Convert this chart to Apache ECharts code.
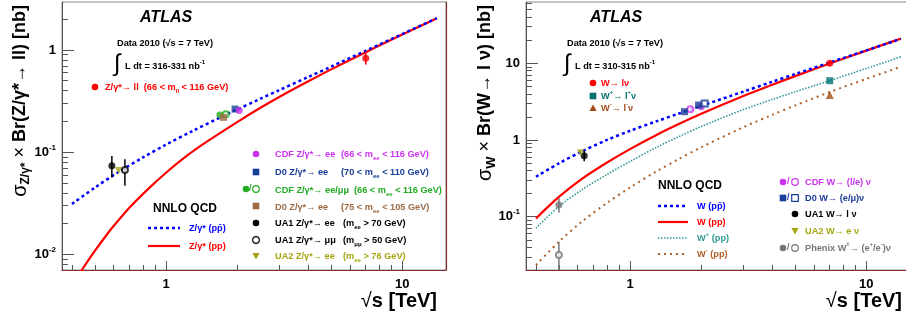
<!DOCTYPE html>
<html>
<head>
<meta charset="utf-8">
<script src="https://cdn.jsdelivr.net/npm/echarts@6/dist/echarts.min.js"></script>
<style>
html, body { margin: 0; padding: 0; background: #fff; }
#main { width: 906px; height: 320px; }
</style>
</head>
<body>
<div id="main"></div>
<script>
// axis ranges (sqrt(s) in TeV, sigma x BR in nb)
var xRange = [0.363, 15.3];
var yRangeZ = [0.00702, 2.95];
var yRangeW = [0.0202, 63];

// tick positions
var xMajor = [1, 10];
var xMinor = [0.4, 0.5, 0.6, 0.7, 0.8, 0.9, 2, 3, 4, 5, 6, 7, 8, 9];
var yMajorZ = [0.01, 0.1, 1];
var yMinorZ = [0.008, 0.009, 0.02, 0.03, 0.04, 0.05, 0.06, 0.07, 0.08, 0.09,
               0.2, 0.3, 0.4, 0.5, 0.6, 0.7, 0.8, 0.9, 2];
var yMajorW = [0.1, 1, 10];
var yMinorW = [0.03, 0.04, 0.05, 0.06, 0.07, 0.08, 0.09, 0.2, 0.3, 0.4, 0.5, 0.6, 0.7, 0.8, 0.9,
               2, 3, 4, 5, 6, 7, 8, 9, 20, 30, 40, 50, 60];

// NNLO QCD Z/gamma* -> ll
var zPpbarE = [0.40, 0.50, 0.63, 0.80, 1.0, 1.3, 1.7, 1.96, 2.5, 3.0, 4.0, 5.0, 7.0, 10, 14];
var zPpbar  = [0.031, 0.045, 0.064, 0.089, 0.1185, 0.162, 0.219, 0.256, 0.332, 0.403, 0.545, 0.688, 0.982, 1.433, 2.046];
var zPpE = [0.40, 0.44, 0.50, 0.55, 0.60, 0.70, 0.85, 1.0, 1.2, 1.5, 2.0, 2.5, 3.0, 4.0, 5.0, 7.0, 10, 14];
var zPp  = [0.0049, 0.0070, 0.0108, 0.0146, 0.0189, 0.0286, 0.0447, 0.0629, 0.0889, 0.128, 0.197, 0.2705, 0.345, 0.494, 0.646, 0.951, 1.418, 2.05];

// NNLO QCD W -> l nu
var wE      = [0.40, 0.50, 0.63, 0.80, 1.0, 1.3, 1.6, 2.0, 3.0, 4.0, 5.0, 7.0, 10, 14];
var wPpbar  = [0.332, 0.496, 0.718, 1.003, 1.317, 1.762, 2.20, 2.78, 4.25, 5.75, 7.25, 10.25, 14.75, 20.8];
var wPp     = [0.095, 0.181, 0.316, 0.509, 0.761, 1.173, 1.602, 2.2, 3.73, 5.26, 6.81, 9.93, 14.65, 21.0];
var wPlusPp = [0.0708, 0.1358, 0.2275, 0.3563, 0.525, 0.809, 1.097, 1.496, 2.48, 3.39, 4.26, 5.94, 8.57, 12.14];
var wMinusPp= [0.0235, 0.0471, 0.0878, 0.1517, 0.2397, 0.393, 0.561, 0.803, 1.455, 2.13, 2.826, 4.22, 6.27, 9.03];

// measurements [sqrt(s), value] and error bars [sqrt(s), low, high]
var atlasZ = [[7.0, 0.83]];
var atlasZErr = [[7.0, 0.72, 0.97]];
var cdfZee196 = [[2.04, 0.255]];
var d0Zee196 = [[1.96, 0.264]];
var cdfZ18Filled = [[1.69, 0.231]];
var cdfZ18Open = [[1.79, 0.235]];
var d0Zee18 = [[1.75, 0.219]];
var ua1Zee = [[0.59, 0.0734]];
var ua1ZeeErr = [[0.59, 0.0565, 0.0915]];
var ua1Zmm = [[0.67, 0.067]];
var ua1ZmmErr = [[0.67, 0.047, 0.085]];
var ua2Zee = [[0.63, 0.066]];

var atlasW = [[7.0, 10.0]];
var atlasWErr = [[7.0, 9.2, 10.9]];
var atlasWPlus = [[7.0, 5.93]];
var atlasWMinus = [[7.0, 3.86]];
var cdfWFilled = [[2.0, 2.72]];
var cdfWOpen = [[1.80, 2.51]];
var d0WFilled = [[1.70, 2.34], [1.95, 2.86]];
var d0WOpen = [[2.07, 3.0]];
var ua1W = [[0.64, 0.624]];
var ua1WErr = [[0.64, 0.53, 0.73]];
var ua2W = [[0.617, 0.683]];
var phenixFilled = [[0.5, 0.142]];
var phenixFilledErr = [[0.5, 0.113, 0.174]];
var phenixOpen = [[0.5, 0.0316]];
var phenixOpenErr = [[0.5, 0.01, 0.047]];

var FONT = "'Liberation Sans', Arial, Helvetica, sans-serif";
var FRAME = '#8a3030';
var col = {
    blue: '#0000ff', red: '#ff0000', teal: '#339999', brown: '#b0602a',
    cdf: '#cc33ee', d0: '#1a3d99', green: '#22aa22', d0Brown: '#9c6b45',
    ua2: '#a5a512', gray: '#777777', wp: '#007070', wm: '#a34a18'
};
var LS = 9.2; // legend font size

var chart = echarts.init(document.getElementById('main'), null, {renderer: 'canvas'});

function lg(v) { return Math.log(v) / Math.LN10; }
function lgList(a) { return a.map(lg); }
function pairs(xs, ys) { return xs.map(function (x, i) { return [x, ys[i]]; }); }

var powRich = {
    b: {fontSize: 13, fontWeight: 'bold', fontFamily: FONT, color: '#000'},
    s: {fontSize: 8, fontWeight: 'bold', fontFamily: FONT, color: '#000', padding: [0, 0, 9, 0]}
};
function powFmt(v) {
    var e = Math.round(v);
    if (e === 0) return '{b|1}';
    if (e === 1) return '{b|10}';
    return '{b|10}{s|' + e + '}';
}

function makeX(g) {
    return [
        {type: 'log', gridIndex: g, position: 'bottom', min: xRange[0], max: xRange[1], show: false},
        {type: 'value', gridIndex: g, position: 'bottom', min: lg(xRange[0]), max: lg(xRange[1]),
         axisLine: {show: true, onZero: false, lineStyle: {color: FRAME, width: 1.2}},
         axisTick: {show: true, inside: true, length: 9, customValues: lgList(xMajor), lineStyle: {color: '#555'}},
         axisLabel: {customValues: lgList(xMajor), formatter: powFmt, rich: powRich, margin: 8},
         splitLine: {show: false}},
        {type: 'value', gridIndex: g, position: 'bottom', min: lg(xRange[0]), max: lg(xRange[1]),
         axisLine: {show: false, onZero: false},
         axisTick: {show: true, inside: true, length: 5, customValues: lgList(xMinor), lineStyle: {color: '#555'}},
         axisLabel: {show: false}, splitLine: {show: false}}
    ];
}
function makeY(g, range, major, minor, rightLine) {
    return [
        {type: 'log', gridIndex: g, min: range[0], max: range[1], position: 'right',
         show: rightLine, axisLine: {show: true, onZero: false, lineStyle: {color: FRAME, width: 1.2}},
         axisTick: {show: false}, axisLabel: {show: false}, splitLine: {show: false}},
        {type: 'value', gridIndex: g, position: 'left', min: lg(range[0]), max: lg(range[1]),
         axisLine: {show: true, onZero: false, lineStyle: {color: '#555', width: 1}},
         axisTick: {show: true, inside: true, length: 12, customValues: lgList(major), lineStyle: {color: '#555'}},
         axisLabel: {customValues: lgList(major), formatter: powFmt, rich: powRich, margin: 6},
         splitLine: {show: false}},
        {type: 'value', gridIndex: g, position: 'left', min: lg(range[0]), max: lg(range[1]),
         axisLine: {show: false, onZero: false},
         axisTick: {show: true, inside: true, length: 6, customValues: lgList(minor), lineStyle: {color: '#555'}},
         axisLabel: {show: false}, splitLine: {show: false}}
    ];
}

function curve(g, xs, ys, color, width, dash) {
    return {type: 'line', xAxisIndex: g * 3, yAxisIndex: g * 3, data: pairs(xs, ys),
            showSymbol: false, symbol: 'none', smooth: 0.3, clip: true, silent: true, z: 2,
            lineStyle: {color: color, width: width, type: dash || 'solid', cap: 'butt'}};
}
function pts(g, data, symbol, color, size, rotate) {
    return {type: 'scatter', xAxisIndex: g * 3, yAxisIndex: g * 3, data: data,
            symbol: symbol, symbolSize: size || 7, symbolRotate: rotate || 0, silent: true, z: 4,
            itemStyle: {color: color, borderColor: color, borderWidth: symbol.indexOf('empty') === 0 ? 1.2 : 0}};
}
function errs(g, data, color) {
    return {type: 'custom', xAxisIndex: g * 3, yAxisIndex: g * 3, data: data, clip: true, silent: true, z: 3,
            encode: {x: 0, y: [1, 2]},
            renderItem: function (params, api) {
                var a = api.coord([api.value(0), api.value(1)]);
                var b = api.coord([api.value(0), api.value(2)]);
                return {type: 'line', shape: {x1: a[0], y1: a[1], x2: b[0], y2: b[1]},
                        style: {stroke: color, lineWidth: 1.5}};
            }};
}

// text helpers for the annotations
function richFor(size) {
    return {
        sub: {fontSize: Math.round(size * 0.7), fontWeight: 'bold', fontFamily: FONT, padding: [Math.round(size * 0.9), 0, 0, 0]},
        sup: {fontSize: Math.round(size * 0.7), fontWeight: 'bold', fontFamily: FONT, padding: [0, 0, Math.round(size * 0.8), 0]},
        n: {fontWeight: 'normal', fontFamily: FONT, fontSize: size}
    };
}
function txt(x, y, text, color, size, extra) {
    var st = {text: text, fill: color, font: 'bold ' + size + 'px ' + FONT,
              align: 'left', verticalAlign: 'middle', textAlign: 'left', textVerticalAlign: 'middle',
              rich: richFor(size)};
    if (extra) for (var k in extra) st[k] = extra[k];
    return {type: 'text', x: x, y: y, silent: true, style: st, z: 10};
}
function dot(x, y, color, open) {
    return {type: 'circle', shape: {cx: x, cy: y, r: 3.3}, silent: true, z: 10,
            style: open ? {fill: '#fff', stroke: color, lineWidth: 1.2} : {fill: color}};
}
function box(x, y, color, open) {
    return {type: 'rect', shape: {x: x - 3.3, y: y - 3.3, width: 6.6, height: 6.6}, silent: true, z: 10,
            style: open ? {fill: '#fff', stroke: color, lineWidth: 1.2} : {fill: color}};
}
function tri(x, y, color, down) {
    var s = down ? -1 : 1;
    return {type: 'polygon', shape: {points: [[x - 3.6, y + 3 * s], [x + 3.6, y + 3 * s], [x, y - 3.6 * s]]},
            silent: true, z: 10, style: {fill: color}};
}
function seg(x1, x2, y, color, width, dash) {
    return {type: 'line', shape: {x1: x1, y1: y, x2: x2, y2: y}, silent: true, z: 10,
            style: {stroke: color, lineWidth: width, lineDash: dash || null}};
}

var graphics = [
    // y titles
    txt(20, 5, '{sg|σ}{sb|Z/γ*}{n| × }Br(Z/γ*→ ll) [nb]', '#000', 18,
        {align: 'right', textAlign: 'right', rich: {
            sg: {fontSize: 20, fontWeight: 'normal', fontFamily: FONT},
            sb: {fontSize: 12, fontWeight: 'bold', fontFamily: FONT, padding: [12, 0, 0, 0]},
            n: {fontSize: 18, fontWeight: 'normal', fontFamily: FONT}}}),
    txt(485, 5, '{sg|σ}{sb|W}{n| × }Br(W→ l ν) [nb]', '#000', 18,
        {align: 'right', textAlign: 'right', rich: {
            sg: {fontSize: 20, fontWeight: 'normal', fontFamily: FONT},
            sb: {fontSize: 13, fontWeight: 'bold', fontFamily: FONT, padding: [12, 0, 0, 0]},
            n: {fontSize: 18, fontWeight: 'normal', fontFamily: FONT}}}),
    // x titles
    txt(437, 301, '{n|√}s [TeV]', '#000', 20, {align: 'right', textAlign: 'right'}),
    txt(902, 301, '{n|√}s [TeV]', '#000', 20, {align: 'right', textAlign: 'right'}),

    // ---- left panel annotations
    txt(140, 18, 'ATLAS', '#000', 16, {font: 'italic bold 16px ' + FONT}),
    txt(117, 43, 'Data 2010 (√s = 7 TeV)', '#000', 9.2),
    txt(114, 64, '∫', '#000', 24, {font: 'normal 24px ' + FONT}),
    txt(125, 66, 'L dt = 316-331 nb{sup|-1}', '#000', 9.2),
    dot(95, 87, col.red),
    txt(105, 87, 'Z/γ*→ ll  (66 < m{sub|ll} < 116 GeV)', col.red, LS),

    dot(256, 154, col.cdf),
    txt(275, 154, 'CDF Z/γ*→ ee', col.cdf, LS), txt(341, 154, '(66 < m{sub|ee} < 116 GeV)', col.cdf, LS),
    box(256, 172, col.d0),
    txt(275, 172, 'D0 Z/γ*→ ee', col.d0, LS), txt(341, 172, '(70 < m{sub|ee} < 110 GeV)', col.d0, LS),
    dot(246, 189, col.green), txt(249, 189, '/', col.green, 9), dot(256, 189, col.green, true),
    txt(275, 190, 'CDF Z/γ*→ ee/μμ', col.green, LS), txt(354, 190, '(66 < m{sub|ee} < 116 GeV)', col.green, LS),
    box(256, 206, col.d0Brown),
    txt(275, 207, 'D0 Z/γ*→ ee', col.d0Brown, LS), txt(341, 207, '(75 < m{sub|ee} < 105 GeV)', col.d0Brown, LS),
    dot(256, 223, '#000'),
    txt(275, 223, 'UA1 Z/γ*→ ee', '#000', LS), txt(343, 223, '(m{sub|ee} > 70 GeV)', '#000', LS),
    dot(256, 240, '#000', true),
    txt(275, 240, 'UA1 Z/γ*→ μμ', '#000', LS), txt(343, 240, '(m{sub|μμ} > 50 GeV)', '#000', LS),
    tri(256, 256, col.ua2, true),
    txt(275, 256, 'UA2 Z/γ*→ ee', col.ua2, LS), txt(343, 256, '(m{sub|ee} > 76 GeV)', col.ua2, LS),

    txt(153, 209, 'NNLO QCD', '#000', 12),
    seg(148, 180, 228, col.blue, 2.5, [3, 3]), txt(189, 228, 'Z/γ* (pp̄)', col.blue, LS),
    seg(148, 180, 246, col.red, 2.2), txt(189, 246, 'Z/γ* (pp)', col.red, LS),

    // ---- right panel annotations
    txt(590, 18, 'ATLAS', '#000', 16, {font: 'italic bold 16px ' + FONT}),
    txt(567, 43, 'Data 2010 (√s = 7 TeV)', '#000', 9.2),
    txt(564, 64, '∫', '#000', 24, {font: 'normal 24px ' + FONT}),
    txt(575, 66, 'L dt = 310-315 nb{sup|-1}', '#000', 9.2),
    dot(593, 83, col.red), txt(601, 83, 'W→ lν', col.red, LS),
    box(593, 96, col.wp), txt(601, 96, 'W{sup|+}→ l{sup|+}ν', col.wp, LS),
    tri(593, 108, col.wm, false), txt(601, 108, 'W{sup|-}→ l{sup|-}ν', col.wm, LS),

    txt(658, 186, 'NNLO QCD', '#000', 12),
    seg(658, 688, 206, col.blue, 2.5, [3, 3]), txt(697, 206, 'W (pp̄)', col.blue, LS),
    seg(658, 688, 222, col.red, 2.2), txt(697, 222, 'W (pp)', col.red, LS),
    seg(658, 688, 238, col.teal, 1.6, [1.5, 1.5]), txt(697, 238, 'W{sup|+} (pp)', col.teal, LS),
    seg(658, 688, 254, col.brown, 2, [2, 4]), txt(697, 254, 'W{sup|-} (pp)', col.brown, LS),

    dot(783, 182, col.cdf), txt(787, 182, '/', col.cdf, 9), dot(795, 182, col.cdf, true),
    txt(805, 182, 'CDF W→ (l/e) ν', col.cdf, LS),
    box(783, 198, col.d0), txt(787, 198, '/', col.d0, 9), box(795, 198, col.d0, true),
    txt(805, 198, 'D0 W→ (e/μ)ν', col.d0, LS),
    dot(795, 214, '#000'), txt(805, 214, 'UA1 W→ l ν', '#000', LS),
    tri(795, 231, col.ua2, true), txt(805, 231, 'UA2 W→ e ν', col.ua2, LS),
    dot(783, 248, col.gray), txt(787, 248, '/', col.gray, 9), dot(795, 248, col.gray, true),
    txt(805, 248, 'Phenix W{sup|±}→ (e{sup|+}/e{sup|-})ν', col.gray, LS)
];
// rotate the two y titles
graphics[0].rotation = Math.PI / 2;
graphics[1].rotation = Math.PI / 2;

var option = {
    animation: false,
    backgroundColor: '#fff',
    textStyle: {fontFamily: FONT},
    grid: [
        {left: 62, top: 2, width: 384, height: 268, show: true, borderColor: '#888', borderWidth: 1,
         containLabel: false, outerBoundsMode: 'none'},
        {left: 526, top: 2, width: 384, height: 268, show: true, borderColor: '#888', borderWidth: 1,
         containLabel: false, outerBoundsMode: 'none'}
    ],
    xAxis: makeX(0).concat(makeX(1)),
    yAxis: makeY(0, yRangeZ, yMajorZ, yMinorZ, true).concat(makeY(1, yRangeW, yMajorW, yMinorW, false)),
    series: [
        curve(0, zPpE, zPp, col.red, 2.2),
        curve(0, zPpbarE, zPpbar, col.blue, 2.5, [3, 3]),
        errs(0, atlasZErr, col.red),
        errs(0, ua1ZeeErr, '#000'),
        errs(0, ua1ZmmErr, '#000'),
        pts(0, atlasZ, 'circle', col.red),
        pts(0, cdfZ18Filled, 'circle', col.green),
        pts(0, cdfZ18Open, 'emptyCircle', col.green, 6),
        pts(0, d0Zee18, 'rect', col.d0Brown),
        pts(0, d0Zee196, 'rect', col.d0),
        pts(0, cdfZee196, 'circle', col.cdf),
        pts(0, ua1Zee, 'circle', '#000'),
        pts(0, ua1Zmm, 'emptyCircle', '#000', 6),
        pts(0, ua2Zee, 'triangle', col.ua2, 7, 180),

        curve(1, wE, wMinusPp, col.brown, 2, [2, 4]),
        curve(1, wE, wPlusPp, col.teal, 1.6, [1.5, 1.5]),
        curve(1, wE, wPp, col.red, 2.2),
        curve(1, wE, wPpbar, col.blue, 2.5, [3, 3]),
        errs(1, atlasWErr, col.red),
        errs(1, ua1WErr, '#000'),
        errs(1, phenixFilledErr, col.gray),
        errs(1, phenixOpenErr, col.gray),
        pts(1, atlasW, 'circle', col.red),
        pts(1, atlasWPlus, 'rect', col.wp),
        pts(1, atlasWMinus, 'triangle', col.wm, 8),
        pts(1, cdfWOpen, 'emptyCircle', col.cdf, 6),
        pts(1, cdfWFilled, 'circle', col.cdf),
        pts(1, d0WFilled, 'rect', col.d0),
        pts(1, d0WOpen, 'emptyRect', col.d0, 6),
        pts(1, ua1W, 'circle', '#000'),
        pts(1, ua2W, 'triangle', col.ua2, 7, 180),
        pts(1, phenixFilled, 'circle', col.gray),
        pts(1, phenixOpen, 'emptyCircle', col.gray, 6)
    ],
    graphic: graphics
};

chart.setOption(option);
</script>
</body>
</html>
